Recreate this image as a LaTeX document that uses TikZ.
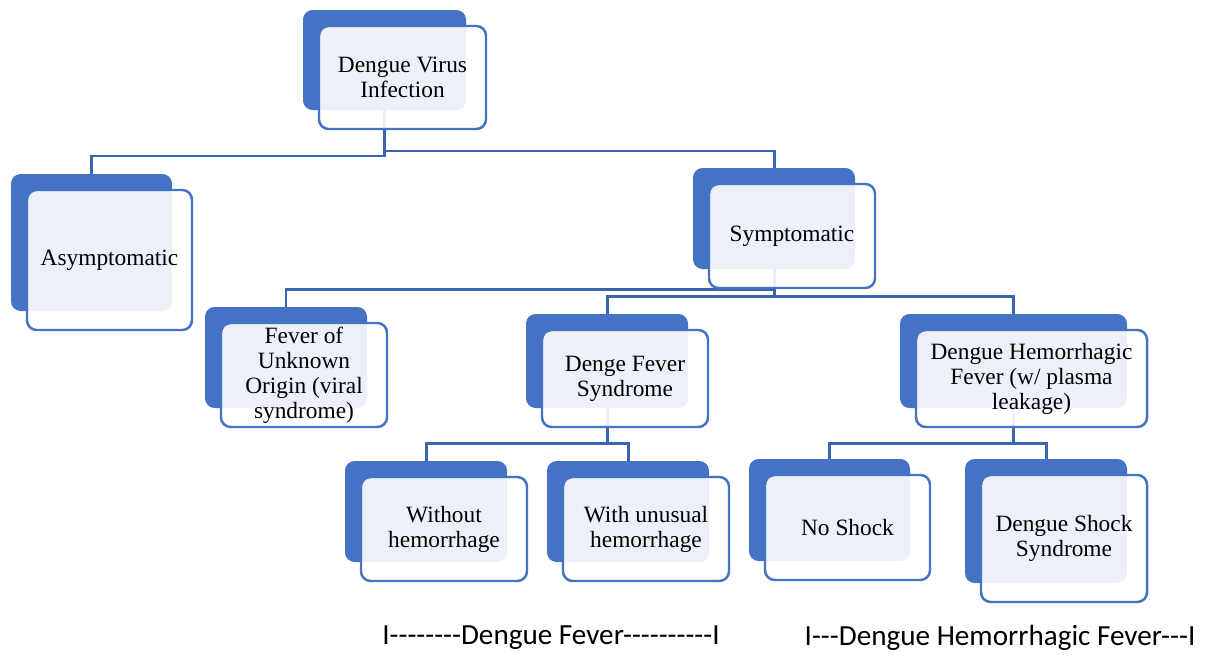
\documentclass[tikz,border=0pt]{standalone}
\usepackage{fontspec}
\setmainfont{Liberation Serif}
\newfontfamily\calibfont{Carlito}
\usetikzlibrary{backgrounds}
\definecolor{accent}{HTML}{4472C4}
\definecolor{conncol}{HTML}{3A64B2}
\definecolor{txt}{HTML}{000000}
\newcommand\hy{-\kern0pt }
\newcommand\ddbox[6]{%
  \node[backbox, minimum width={(#4-#2)*0.02cm}, minimum height={(#5-#3)*0.02cm}] (b#1) at ({(#2+#4)/2},{(#3+#5)/2}) {};
  \node[frontbox, minimum width={(#4-#2+4)*0.02cm}, minimum height={(#5-#3+3)*0.02cm}] (f#1) at ({(#2+#4)/2+18},{(#3+#5)/2+17.5}) {#6};}
\tikzset{
  backbox/.style={rectangle, rounded corners=5.5pt, fill=accent, draw=none, inner sep=0pt, outer sep=0pt},
  frontbox/.style={rectangle, rounded corners=5.5pt, draw=accent, line width=1.4pt, fill=white, fill opacity=0.9, text opacity=1, text=txt, inner sep=0pt, outer sep=0pt, align=center, font=\fontsize{13.3}{14.2}\selectfont},
  conn/.style={draw=conncol, line width=1.7pt},
  note/.style={font=\calibfont\fontsize{16.6}{18}\selectfont, text=black, inner sep=0pt}
}
\begin{document}
\begin{tikzpicture}[x=0.02cm, y=-0.02cm]
\useasboundingbox (0,0) rectangle (1209,656);
\ddbox{1}{303}{10}{466}{110}{Dengue Virus\\Infection}
\ddbox{2}{11}{174}{172}{311}{Asymptomatic}
\ddbox{3}{693}{168}{855}{269}{Symptomatic}
\ddbox{4}{205}{307}{367}{408}{Fever of\\Unknown\\Origin (viral\\syndrome)}
\ddbox{5}{526}{314}{688}{408}{Denge Fever\\Syndrome}
\ddbox{6}{900}{314}{1127}{408}{Dengue Hemorrhagic\\Fever (w/ plasma\\leakage)}
\ddbox{7}{345}{461}{507}{562}{Without\\hemorrhage}
\ddbox{8}{547}{461}{709}{562}{With unusual\\hemorrhage}
\ddbox{9}{749}{459}{910}{561}{No Shock}
\ddbox{10}{965}{459}{1127}{583}{Dengue Shock\\Syndrome}
\begin{scope}[on background layer]
  \draw[conn] (b1.south) -- (b1.south |- 0,156) -| (b2.north);
  \draw[conn] (b1.south) -- (b1.south |- 0,151) -| (b3.north);
  \draw[conn] (b3.south) -- (b3.south |- 0,289) -| (b4.north);
  \draw[conn] (b3.south) -- (b3.south |- 0,296) -| (b5.north);
  \draw[conn] (b3.south) -- (b3.south |- 0,296) -| (b6.north);
  \draw[conn] (b5.south) -- (b5.south |- 0,443) -| (b7.north);
  \draw[conn] (b5.south) -- (b5.south |- 0,443) -| (b8.north);
  \draw[conn] (b6.south) -- (b6.south |- 0,443) -| (b9.north);
  \draw[conn] (b6.south) -- (b6.south |- 0,443) -| (b10.north);
\end{scope}
\node[note] (l1) at (551,638) {I\hy\hy\hy\hy\hy\hy\hy\hy Dengue Fever\hy\hy\hy\hy\hy\hy\hy\hy\hy\hy I};
\node[note] (l2) at (1000,638) {I\hy\hy\hy Dengue Hemorrhagic Fever\hy\hy\hy I};
\end{tikzpicture}
\end{document}
